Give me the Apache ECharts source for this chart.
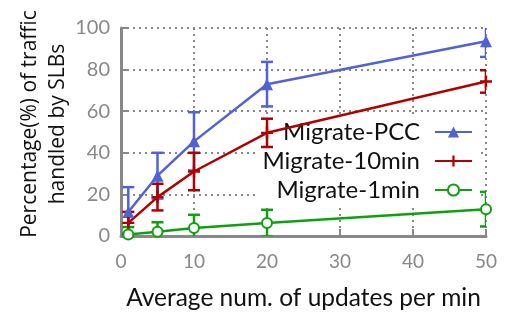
<!DOCTYPE html>
<html><head><meta charset="utf-8">
<script src="https://cdn.jsdelivr.net/npm/echarts@6/dist/echarts.min.js"></script>
<style>html,body{margin:0;padding:0;background:#fff}#c{width:505px;height:316px}</style>
</head><body><div id="c"></div>
<script>
var xValues = [1, 5, 10, 20, 50];
var pccValues = [11.5, 29, 45.5, 73, 93.6];
var pccErr = [12, 11, 14, 10.7, 7.5];
var min10Values = [6.3, 18.7, 31, 49.6, 74.3];
var min10Err = [5.3, 6.4, 9, 6.8, 5.4];
var min1Values = [0.7, 2, 3.8, 6.2, 12.9];
var min1Err = [3.6, 4.6, 6.4, 6.4, 8.3];
var xTicks = [0, 10, 20, 30, 40, 50];
var yTicks = [0, 20, 40, 60, 80, 100];
var seriesNames = ['Migrate-PCC', 'Migrate-10min', 'Migrate-1min'];
var colors = ['#5062d6', '#b00000', '#0ea00e'];

var FONT = 'Lato';
var chart = echarts.init(document.getElementById('c'));

function pts(vals) { return xValues.map(function (x, i) { return [x, vals[i]]; }); }
function errData(vals, errs) { return xValues.map(function (x, i) { return [x, vals[i] - errs[i], vals[i] + errs[i]]; }); }

function errSeries(vals, errs, color) {
  return {
    type: 'custom', clip: true, z: 3, color: color,
    data: errData(vals, errs),
    encode: { x: 0, y: [1, 2] },
    renderItem: function (params, api) {
      var lo = api.coord([api.value(0), api.value(1)]);
      var hi = api.coord([api.value(0), api.value(2)]);
      var w = 6;
      var st = { stroke: color, lineWidth: 2.5, fill: null };
      return {
        type: 'group',
        children: [
          { type: 'line', shape: { x1: lo[0], y1: lo[1], x2: hi[0], y2: hi[1] }, style: st },
          { type: 'line', shape: { x1: lo[0] - w, y1: lo[1], x2: lo[0] + w, y2: lo[1] }, style: st },
          { type: 'line', shape: { x1: hi[0] - w, y1: hi[1], x2: hi[0] + w, y2: hi[1] }, style: st }
        ]
      };
    }
  };
}

var plusPath = 'path://M4,0 L6,0 L6,4 L10,4 L10,6 L6,6 L6,10 L4,10 L4,6 L0,6 L0,4 L4,4 Z';

var option = {
  animation: false,
  textStyle: { fontFamily: FONT },
  grid: { left: 121, right: 19, top: 28, bottom: 79 },
  xAxis: {
    type: 'value', min: 0, max: 50, interval: 10,
    axisLine: { show: true, onZero: false, lineStyle: { color: '#888', width: 3 } },
    axisTick: { show: true, inside: true, length: 7, lineStyle: { color: '#888', width: 2 } },
    axisLabel: { color: '#888', fontSize: 19, fontFamily: FONT, margin: 16,
      formatter: function (v) { return xTicks.indexOf(v) >= 0 ? String(v) : ''; } },
    splitLine: { show: true, lineStyle: { color: '#888', width: 2, type: [2, 4] } },
    name: 'Average num. of updates per min', nameLocation: 'middle', nameGap: 50,
    nameTextStyle: { color: '#111', fontSize: 24.5, fontFamily: FONT }
  },
  yAxis: {
    type: 'value', min: 0, max: 100, interval: 20,
    axisLine: { show: true, lineStyle: { color: '#888', width: 3 } },
    axisTick: { show: true, inside: true, length: 7, lineStyle: { color: '#888', width: 2 } },
    axisLabel: { color: '#888', fontSize: 20, fontFamily: FONT, margin: 11,
      formatter: function (v) { return yTicks.indexOf(v) >= 0 ? String(v) : ''; } },
    splitLine: { show: true, lineStyle: { color: '#888', width: 2, type: [2, 4] } }
  },
  legend: {
    orient: 'vertical', right: 28, top: 117, align: 'right', z: 1,
    backgroundColor: '#fff', padding: [3, 4, 3, 6],
    itemWidth: 37, itemHeight: 14, itemGap: 5,
    data: seriesNames,
    textStyle: { fontSize: 24, color: '#111', fontFamily: FONT, lineHeight: 24, padding: [0, 10, 0, 0] }
  },
  graphic: [{
    type: 'text', x: 44, y: 124, rotation: Math.PI / 2,
    style: { text: 'Percentage(%) of traffic\nhandled by SLBs', fontSize: 21, fontFamily: 'Open Sans',
      fill: '#111', align: 'center', verticalAlign: 'middle', lineHeight: 28 }
  }],
  series: [
    { type: 'line', name: 'Migrate-PCC', data: pts(pccValues), z: 4,
      symbol: 'triangle', symbolSize: 12, color: colors[0],
      lineStyle: { width: 2.5, color: colors[0] }, itemStyle: { color: colors[0] } },
    { type: 'line', name: 'Migrate-10min', data: pts(min10Values), z: 4,
      symbol: plusPath, symbolSize: 12, color: colors[1],
      lineStyle: { width: 2.5, color: colors[1] }, itemStyle: { color: colors[1] } },
    { type: 'line', name: 'Migrate-1min', data: pts(min1Values), z: 4,
      symbol: 'emptyCircle', symbolSize: 10, color: colors[2],
      lineStyle: { width: 2.5, color: colors[2] }, itemStyle: { color: colors[2], borderWidth: 3 } },
    errSeries(pccValues, pccErr, colors[0]),
    errSeries(min10Values, min10Err, colors[1]),
    errSeries(min1Values, min1Err, colors[2])
  ]
};
chart.setOption(option);
</script>
</body></html>
